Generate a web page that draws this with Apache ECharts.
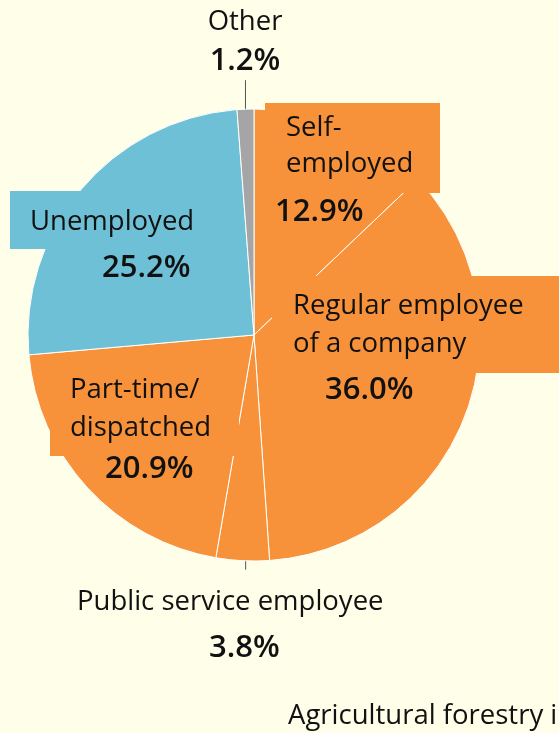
<!DOCTYPE html>
<html><head><meta charset="utf-8">
<script src="https://cdn.jsdelivr.net/npm/echarts@6/dist/echarts.min.js"></script>
<style>html,body{margin:0;padding:0;background:#FEFEE9;} #c{width:559px;height:733px;}</style>
</head><body><div id="c"></div>
<script>
// ---- data ----
const categories = ['Self-\nemployed', 'Regular employee\nof a company', 'Public service employee', 'Part-time/\ndispatched', 'Unemployed', 'Other'];
const shares = [12.9, 36.0, 3.8, 20.9, 25.2, 1.2];
const footerText = 'Agricultural forestry industry';

// ---- styling ----
const ORANGE = '#F7923A', BLUE = '#6EC0D6', GRAY = '#A5A5A5', BG = '#FEFEE9';
const sliceColors = [ORANGE, ORANGE, ORANGE, ORANGE, BLUE, GRAY];
const NAME_FONT = { fontFamily: '"Open Sans"', fontSize: 27.5, color: '#111' };
const PCT_FONT = { fontFamily: '"Open Sans"', fontSize: 31, fontWeight: 600, color: '#111' };

// label placement (text positions, boxes, line heights)
const labelPlacement = [
  { x: 265, y: 103, align: 'left', box: [175, 90], nameIndent: 21, pctIndent: 10, lh: [51, 20, 76] },
  { x: 272, y: 276, align: 'left', box: [292, 97], nameIndent: 21, pctIndent: 53, lh: [60, 16, 76], pctBox: [188, 32] },
  { x: 77, y: 581, align: 'left', nameIndent: 0, pctIndent: 132, lh: [43, 48], outside: true, line: [-9, 9], lineDx: 3 },
  { x: 50, y: 365, align: 'left', box: [189, 91], nameIndent: 20, pctIndent: 55, lh: [50, 27, 54] },
  { x: 10, y: 191, align: 'left', box: [210, 58], nameIndent: 20, pctIndent: 92, lh: [63, 29] },
  { x: 245, y: 1, align: 'center', nameIndent: 0, pctIndent: 0, lh: [43, 34], outside: true, line: [9, -29], lineDx: 0 }
];

function buildLabel(i) {
  const p = labelPlacement[i];
  const lines = categories[i].split('\n');
  const rich = {};
  const parts = lines.map((t, k) => {
    rich['n' + k] = Object.assign({ lineHeight: p.lh[k] }, NAME_FONT);
    let s = '';
    if (p.nameIndent) { rich['s' + k] = { width: p.nameIndent, lineHeight: p.lh[k] }; s = '{s' + k + '| }'; }
    return s + '{n' + k + '|' + t + '}';
  });
  const lhP = p.lh[lines.length];
  rich.p = Object.assign({ lineHeight: lhP }, PCT_FONT);
  let s = '';
  if (p.pctIndent) { rich.sp = { width: p.pctIndent, lineHeight: lhP }; s = '{sp| }'; }
  if (p.pctBox) {
    rich.sp.height = p.pctBox[1]; rich.sp.backgroundColor = sliceColors[i];
    rich.p.width = p.pctBox[0] - p.pctIndent; rich.p.height = p.pctBox[1]; rich.p.backgroundColor = sliceColors[i];
  }
  parts.push(s + '{p|' + shares[i].toFixed(1) + '%}');
  const str = parts.join('\n');
  const label = { show: true, position: p.outside ? 'outside' : 'inside', formatter: () => str, rich: rich, color: '#111' };
  if (p.box) { label.backgroundColor = sliceColors[i]; label.width = p.box[0]; label.height = p.box[1]; }
  return label;
}

const seriesData = categories.map((name, i) => ({
  name: name,
  value: shares[i],
  itemStyle: { color: sliceColors[i] },
  label: buildLabel(i),
  labelLine: labelPlacement[i].line ? { show: true, lineStyle: { color: '#555', width: 1 } } : { show: false }
}));

const chart = echarts.init(document.getElementById('c'), null, { renderer: 'canvas' });
chart.setOption({
  backgroundColor: BG,
  animation: false,
  series: [{
    type: 'pie',
    center: [254, 335],
    radius: 226,
    startAngle: 90,
    clockwise: true,
    avoidLabelOverlap: false,
    itemStyle: { borderColor: '#fff', borderWidth: 1 },
    emphasis: { disabled: true },
    labelLine: { show: false },
    labelLayout: function (params) {
      const p = labelPlacement[params.dataIndex];
      const r = { x: p.x, y: p.y, align: p.align, verticalAlign: 'top' };
      if (p.line && params.labelLinePoints && params.labelLinePoints.length) {
        const e = params.labelLinePoints[0];
        const lx = e[0] + p.lineDx;
        r.labelLinePoints = [[lx, e[1] + p.line[0]], [lx, e[1] + p.line[1]]];
      }
      return r;
    },
    data: seriesData
  }],
  graphic: [{
    type: 'text', x: 288, y: 716,
    style: { text: footerText, font: '27.5px "Open Sans"', fill: '#111', verticalAlign: 'middle', align: 'left' }
  }]
});
</script>
</body></html>
